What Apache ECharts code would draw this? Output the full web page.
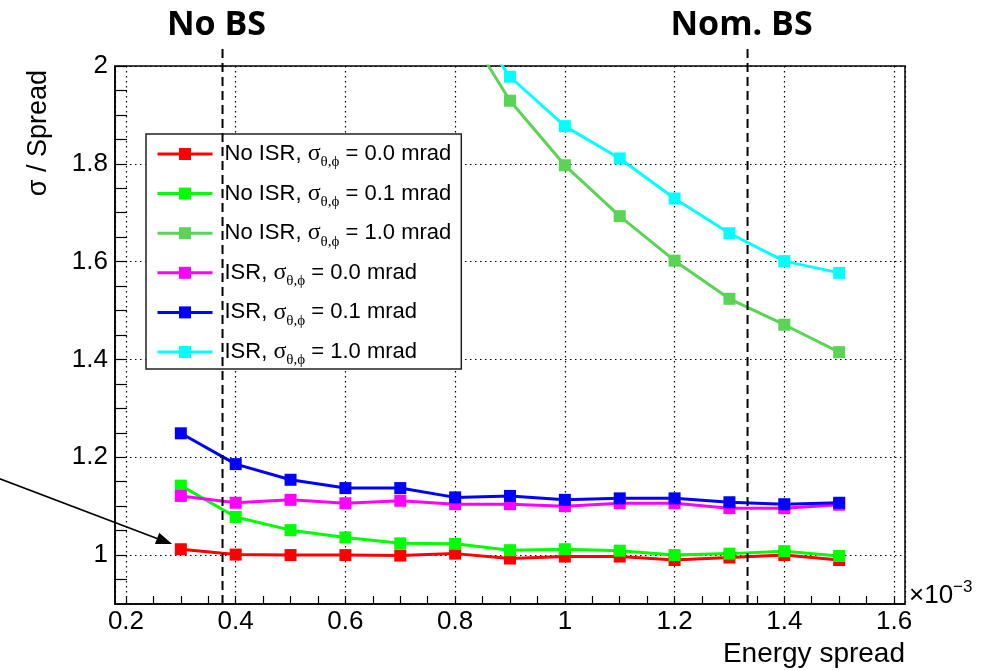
<!DOCTYPE html>
<html>
<head>
<meta charset="utf-8">
<script src="https://cdn.jsdelivr.net/npm/echarts@6/dist/echarts.min.js"></script>
<style>
  html, body { margin: 0; padding: 0; background: #fff; }
  #chart { width: 987px; height: 670px; }
</style>
</head>
<body>
<div id="chart"></div>
<script>
// energy spread (x 1e-3)
const energySpread = [0.3, 0.4, 0.5, 0.6, 0.7, 0.8, 0.9, 1.0, 1.1, 1.2, 1.3, 1.4, 1.5];

// sigma / spread for each configuration
const noIsrSigma00 = [1.012, 1.001, 1.0, 1.0, 0.999, 1.003, 0.993, 0.997, 0.997, 0.99, 0.995, 1.0, 0.99];
const noIsrSigma01 = [1.142, 1.078, 1.051, 1.036, 1.024, 1.023, 1.01, 1.012, 1.009, 1.0, 1.003, 1.008, 0.998];
const noIsrSigma10 = [null, null, null, null, null, 2.11, 1.929, 1.797, 1.693, 1.602, 1.524, 1.471, 1.415];
const isrSigma00 = [1.121, 1.107, 1.113, 1.106, 1.111, 1.104, 1.104, 1.1, 1.106, 1.106, 1.096, 1.096, 1.103];
const isrSigma01 = [1.249, 1.186, 1.154, 1.137, 1.137, 1.118, 1.121, 1.113, 1.116, 1.116, 1.108, 1.104, 1.107];
const isrSigma10 = [null, null, null, null, null, 2.136, 1.978, 1.877, 1.811, 1.729, 1.658, 1.601, 1.577];

const seriesNames = [
  "No ISR, σθ,ϕ = 0.0 mrad",
  "No ISR, σθ,ϕ = 0.1 mrad",
  "No ISR, σθ,ϕ = 1.0 mrad",
  "ISR, σθ,ϕ = 0.0 mrad",
  "ISR, σθ,ϕ = 0.1 mrad",
  "ISR, σθ,ϕ = 1.0 mrad",
];
const seriesValues = [noIsrSigma00, noIsrSigma01, noIsrSigma10, isrSigma00, isrSigma01, isrSigma10];

// axis ticks / labels
const xLabelValues = [0.2, 0.4, 0.6, 0.8, 1.0, 1.2, 1.4, 1.6];
const xTickValues = [0.2, 0.25, 0.3, 0.35, 0.4, 0.45, 0.5, 0.55, 0.6, 0.65, 0.7, 0.75, 0.8, 0.85, 0.9,
  0.95, 1.0, 1.05, 1.1, 1.15, 1.2, 1.25, 1.3, 1.35, 1.4, 1.45, 1.5, 1.55, 1.6];
const yLabelValues = [1, 1.2, 1.4, 1.6, 1.8, 2];
const yTickValues = [0.95, 1.0, 1.05, 1.1, 1.15, 1.2, 1.25, 1.3, 1.35, 1.4, 1.45, 1.5, 1.55, 1.6,
  1.65, 1.7, 1.75, 1.8, 1.85, 1.9, 1.95, 2.0];

// annotations (data coordinates)
const bsPositions = [0.376, 1.333];
const bsLabels = ["No BS", "Nom. BS"];
const arrowFrom = [-0.03, 1.156];
const arrowTo = [0.284, 1.0225];

const colors = ["#ff0000", "#00ff00", "#59d454", "#ff00ff", "#0000ff", "#00ffff"];
const sansFont = '"Liberation Sans", Arial, sans-serif';
const serifFont = '"Liberation Serif", "Times New Roman", serif';

const xRange = { min: 0.18, max: 1.62 };
const yRange = { min: 0.9, max: 2.0 };
const gridLine = { show: true, lineStyle: { color: "#000", width: 1.2, type: [1.5, 3.5] } };

function buildSeries(name, values, color) {
  return {
    name,
    type: "line",
    symbol: "rect",
    symbolSize: 12,
    clip: true,
    connectNulls: false,
    animation: false,
    emphasis: { disabled: true },
    lineStyle: { width: 3, color },
    itemStyle: { color },
    data: energySpread.map((x, i) => [x, values[i] === null ? "-" : values[i]]),
  };
}

const chart = echarts.init(document.getElementById("chart"));

chart.setOption({
  animation: false,
  backgroundColor: "#fff",
  grid: {
    left: 115, right: 82, top: 66, bottom: 66,
    show: true, borderColor: "#000", borderWidth: 1.5,
  },
  legend: {
    orient: "vertical",
    left: 146,
    top: 134,
    itemWidth: 55,
    itemHeight: 15,
    itemGap: 11.6,
    padding: [8, 10, 1, 10],
    borderColor: "#222",
    borderWidth: 1.5,
    backgroundColor: "#fff",
    selectedMode: false,
    lineStyle: { width: 3 },
    formatter: (name) => {
      const [pre, post] = name.split("σθ,ϕ");
      return `{lead|${pre}}{g|σ}{sub|θ,ϕ}{t|${post}}`;
    },
    textStyle: {
      color: "#000",
      rich: {
        lead: { fontFamily: sansFont, fontSize: 22, lineHeight: 32, color: "#000", padding: [0, 0, 0, 7] },
        t: { fontFamily: sansFont, fontSize: 22, lineHeight: 32, color: "#000" },
        g: { fontFamily: serifFont, fontSize: 24, color: "#000" },
        sub: { fontFamily: serifFont, fontSize: 15, lineHeight: 14, verticalAlign: "bottom", color: "#000" },
      },
    },
  },
  xAxis: [
    {
      type: "value",
      ...xRange,
      splitNumber: 7,
      axisLine: { onZero: false, lineStyle: { color: "#000", width: 1.5 } },
      axisTick: { show: false },
      axisLabel: { customValues: xLabelValues, color: "#000", fontSize: 26, fontFamily: sansFont, margin: 5 },
      splitLine: gridLine,
    },
    {
      // tick marks only
      type: "value",
      position: "bottom",
      ...xRange,
      axisLine: { show: false, onZero: false },
      axisTick: { show: true, inside: true, length: 8, customValues: xTickValues, lineStyle: { color: "#000", width: 1.2 } },
      axisLabel: { show: false },
      splitLine: { show: false },
    },
  ],
  yAxis: [
    {
      type: "value",
      ...yRange,
      splitNumber: 5,
      axisLine: { onZero: false, lineStyle: { color: "#000", width: 1.5 } },
      axisTick: { show: false },
      axisLabel: { customValues: yLabelValues, color: "#000", fontSize: 26, fontFamily: sansFont, margin: 7 },
      splitLine: gridLine,
    },
    {
      type: "value",
      position: "left",
      ...yRange,
      axisLine: { show: false, onZero: false },
      axisTick: { show: true, inside: true, length: 12, customValues: yTickValues, lineStyle: { color: "#000", width: 1.2 } },
      axisLabel: { show: false },
      splitLine: { show: false },
    },
  ],
  series: seriesNames.map((name, i) => buildSeries(name, seriesValues[i], colors[i])),
});

// annotations placed through the axes
function px(pt) {
  return chart.convertToPixel({ xAxisIndex: 0, yAxisIndex: 0 }, pt);
}

const graphics = [];

bsPositions.forEach((x, i) => {
  const bottom = px([x, 0.9]);
  const top = px([x, 2.039]);
  graphics.push({
    type: "line",
    z: 100,
    shape: { x1: bottom[0], y1: bottom[1], x2: top[0], y2: top[1] },
    style: { stroke: "#000", lineWidth: 2, lineDash: [9, 5] },
  });
  graphics.push({
    type: "text",
    z: 100,
    x: bottom[0] - 6,
    y: 25,
    style: {
      text: bsLabels[i],
      fontFamily: '"Open Sans", sans-serif',
      fontWeight: "bold",
      fontSize: 34,
      fill: "#000",
      align: "center",
      verticalAlign: "middle",
    },
  });
});

const a = px(arrowFrom);
const b = px(arrowTo);
const dx = b[0] - a[0];
const dy = b[1] - a[1];
const len = Math.sqrt(dx * dx + dy * dy);
const ux = dx / len;
const uy = dy / len;
const headLen = 16;
const headHalf = 6;
const base = [b[0] - ux * headLen, b[1] - uy * headLen];
graphics.push({
  type: "line",
  z: 100,
  shape: { x1: a[0], y1: a[1], x2: base[0], y2: base[1] },
  style: { stroke: "#000", lineWidth: 1.6 },
});
graphics.push({
  type: "polygon",
  z: 100,
  shape: {
    points: [
      [b[0], b[1]],
      [base[0] - uy * headHalf, base[1] + ux * headHalf],
      [base[0] + uy * headHalf, base[1] - ux * headHalf],
    ],
  },
  style: { fill: "#000" },
});

// axis titles
graphics.push({
  type: "text",
  x: 39,
  y: 70,
  rotation: Math.PI / 2,
  style: {
    text: "σ / Spread",
    fontFamily: sansFont,
    fontSize: 27,
    fill: "#000",
    align: "right",
    verticalAlign: "middle",
  },
});
graphics.push({
  type: "text",
  x: 905,
  y: 654,
  style: {
    text: "Energy spread",
    fontFamily: sansFont,
    fontSize: 28,
    fill: "#000",
    align: "right",
    verticalAlign: "middle",
  },
});
graphics.push({
  type: "text",
  x: 909,
  y: 596,
  style: {
    text: "{a|×10}{sup|−3}",
    align: "left",
    verticalAlign: "middle",
    rich: {
      a: { fontFamily: sansFont, fontSize: 26, lineHeight: 34, fill: "#000" },
      sup: { fontFamily: sansFont, fontSize: 17, lineHeight: 16, verticalAlign: "top", fill: "#000" },
    },
  },
});

chart.setOption({ graphic: graphics });
</script>
</body>
</html>
